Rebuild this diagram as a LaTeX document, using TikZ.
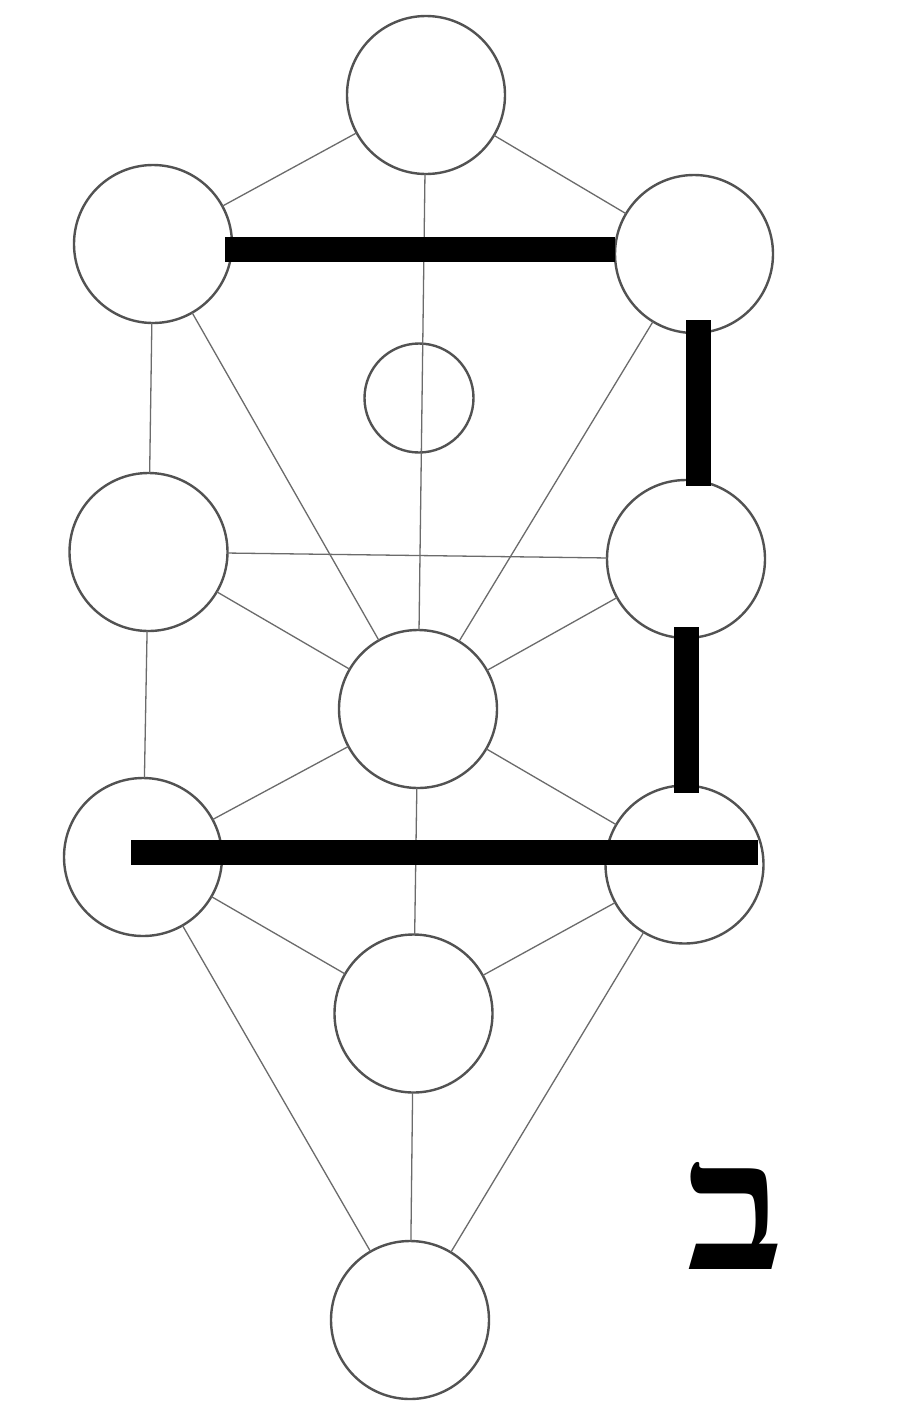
\documentclass[tikz,border=0pt]{standalone}
\usepackage{fontspec}
\newfontfamily\hebfont[Script=Hebrew]{Liberation Serif}
\TeXXeTstate=1
\begin{document}
\begin{tikzpicture}[x=1pt,y=-1pt,
  sephira/.style={circle, draw=black!68, line width=2.4pt, minimum size=158pt, inner sep=0pt, outer sep=0pt},
  small/.style={sephira, minimum size=109pt},
  path/.style={draw=black!58, line width=1.3pt},
  bar/.style={draw=black, line width=25pt, line cap=butt},
  letter/.style={inner sep=0pt, font=\hebfont\bfseries}]
\useasboundingbox (0,0) rectangle (911,1401);
\fill[white] (0,0) rectangle (911,1401);
% sephirot
\node[sephira] (top) at (426,95) {};
\node[sephira] (ul) at (153,244) {};
\node[sephira] (ur) at (694,254) {};
\node[small] (daat) at (419,398) {};
\node[sephira] (ml) at (148.5,552) {};
\node[sephira] (mr) at (686,559) {};
\node[sephira] (tif) at (418,709) {};
\node[sephira] (ll) at (143,857) {};
\node[sephira] (lr) at (684.5,864.5) {};
\node[sephira] (yes) at (413.5,1013.5) {};
\node[sephira] (mal) at (410,1320) {};
% paths
\draw[path] (top) -- (ul);
\draw[path] (top) -- (ur);
\draw[path] (top) -- (tif);
\draw[path] (ul) -- (ur);
\draw[path] (ul) -- (ml);
\draw[path] (ul) -- (tif);
\draw[path] (ur) -- (mr);
\draw[path] (ur) -- (tif);
\draw[path] (ml) -- (mr);
\draw[path] (ml) -- (tif);
\draw[path] (ml) -- (ll);
\draw[path] (mr) -- (tif);
\draw[path] (mr) -- (lr);
\draw[path] (tif) -- (ll);
\draw[path] (tif) -- (lr);
\draw[path] (tif) -- (yes);
\draw[path] (ll) -- (lr);
\draw[path] (ll) -- (yes);
\draw[path] (lr) -- (yes);
\draw[path] (ll) -- (mal);
\draw[path] (lr) -- (mal);
\draw[path] (yes) -- (mal);
% thick bars
\coordinate (b1a) at (225,249.5);
\coordinate (b1b) at (615,249.5);
\coordinate (b2a) at (698.5,320);
\coordinate (b2b) at (698.5,486);
\coordinate (b3a) at (686.5,627);
\coordinate (b3b) at (686.5,793);
\coordinate (b4a) at (131,852.5);
\coordinate (b4b) at (758,852.5);
\draw[bar] (b1a) -- (b1b);
\draw[bar] (b2a) -- (b2b);
\draw[bar] (b3a) -- (b3b);
\draw[bar] (b4a) -- (b4b);
% letter
\node[letter] (bet) at (735.5,1215.5) {\resizebox{98pt}{107pt}{\beginR ב\endR}};
\end{tikzpicture}
\end{document}
